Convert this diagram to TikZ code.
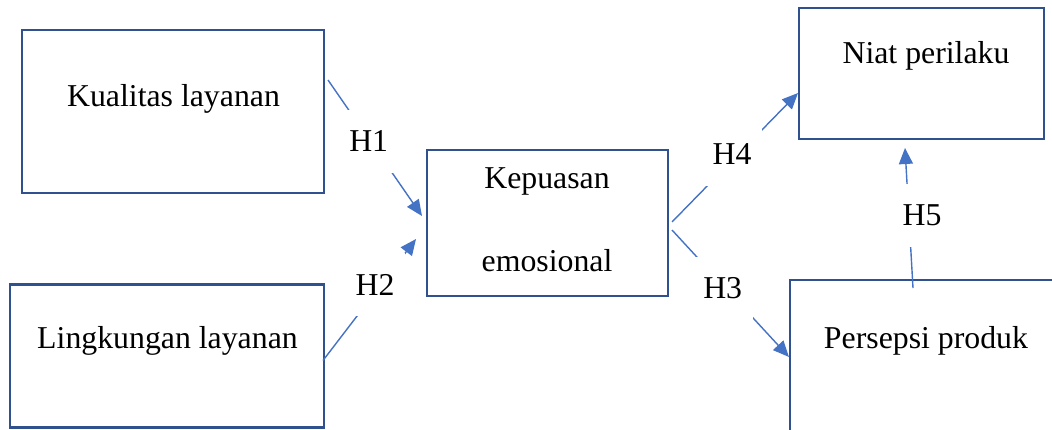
\documentclass[tikz,border=0pt]{standalone}
\usepackage{fontspec}
\setmainfont{Liberation Serif}
\usetikzlibrary{arrows.meta,calc}
\definecolor{boxblue}{HTML}{2F528F}
\definecolor{arrblue}{HTML}{4472C4}
\begin{document}
\begin{tikzpicture}[x=1pt,y=1pt,
  box/.style={draw=boxblue,line width=2.8pt,rectangle,outer sep=0pt,inner sep=0pt},
  txt/.style={anchor=base,inner sep=0pt,font=\fontsize{31.8}{36}\selectfont},
  conn/.style={draw=arrblue,line width=1.4pt,-{Triangle[length=16pt,width=14pt]}},
  lab/.style={anchor=base,fill=white,inner xsep=11pt,inner ysep=21pt,font=\fontsize{31.8}{36}\selectfont}]
\useasboundingbox (0,0) rectangle (1052,-430);
% boxes
\node[box,minimum width=302pt,minimum height=163pt] (kq) at (173,-111.5) {};
\node[box,minimum width=314pt,minimum height=143pt] (ll) at (167,-356) {};
\node[box,minimum width=241pt,minimum height=146pt] (ke) at (547.5,-223) {};
\node[box,minimum width=245pt,minimum height=131pt] (np) at (921.5,-73.5) {};
\node[box,minimum width=280pt,minimum height=170pt] (pp) at (930,-365) {};
% texts
\node[txt] (tkq) at (173.5,-107) {Kualitas layanan};
\node[txt] (tll) at (167.5,-348) {Lingkungan layanan};
\node[txt] (tke1) at (547,-189) {Kepuasan};
\node[txt] (tke2) at (547,-272) {emosional};
\node[txt] (tnp) at (926,-64) {Niat perilaku};
\node[txt] (tpp) at (926,-348) {Persepsi produk};
% connectors
\draw[conn] ([shift={(4,-50)}]kq.north east) -- ([shift={(-5,-66)}]ke.north west);
\draw[conn] ([shift={(-1,-76)}]ll.north east) -- ([shift={(-11,-89)}]ke.north west);
\draw[conn] ([shift={(4,-72)}]ke.north east) -- ([shift={(-1,-85)}]np.north west);
\draw[conn] ([shift={(4,-80)}]ke.north east) -- ([shift={(-1,-77)}]pp.north west);
\draw[conn] ([shift={(123,-8)}]pp.north west) -- ([shift={(106,-9)}]np.south west);
% labels
\node[lab] (h1) at (368.7,-152) {H1};
\node[lab] (h2) at (375,-295) {H2};
\node[lab] (h4) at (732,-165) {H4};
\node[lab] (h3) at (722.7,-299) {H3};
\node[lab] (h5) at (922,-226) {H5};
\end{tikzpicture}
\end{document}
